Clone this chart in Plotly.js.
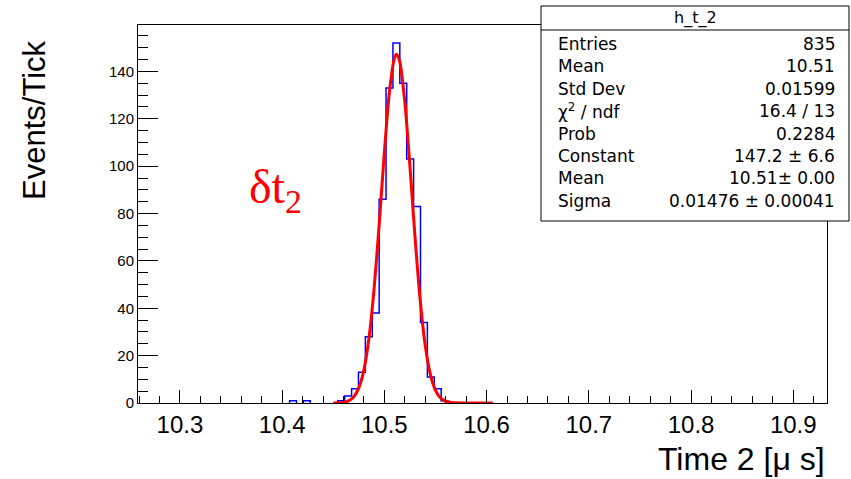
<!DOCTYPE html>
<html>
<head>
<meta charset="utf-8">
<script src="https://cdn.plot.ly/plotly-3.0.1.min.js"></script>
<style>
html,body{margin:0;padding:0;background:#fff;}
#chart{width:851px;height:479px;}
</style>
</head>
<body>
<div id="chart"></div>
<script>
// ---- histogram definition (h_t_2) ----
const histMin = 10.259;
const histMax = 10.933;
const nBins = 100;
// non-empty bins: bin index and content
const binIndex = [22, 24, 29, 30, 31, 32, 33, 34, 35, 36, 37, 38, 39, 40, 41, 42, 43, 44];
const binCount = [1, 1, 1, 3, 6, 13, 28, 38, 86, 133, 152, 135, 103, 83, 34, 11, 6, 1];

// ---- Gaussian fit curve as drawn ----
const fitX = [10.450, 10.455, 10.460, 10.465, 10.470, 10.475, 10.480, 10.485, 10.490, 10.495,
              10.500, 10.505, 10.510, 10.512, 10.515, 10.520, 10.525, 10.530, 10.535, 10.540,
              10.545, 10.550, 10.555, 10.560, 10.565, 10.570, 10.575, 10.580, 10.590, 10.600, 10.606];
const fitY = [0.02, 0.09, 0.30, 0.93, 2.57, 6.36, 14.0, 27.6, 48.5, 75.8,
              105.8, 131.5, 145.9, 147.2, 144.2, 127.1, 99.9, 70.0, 43.7, 24.3,
              12.1, 5.35, 2.11, 0.74, 0.23, 0.07, 0.02, 0.0, 0.0, 0.0, 0.0];

// ---- axis ticks ----
const xTickVals = [10.3, 10.4, 10.5, 10.6, 10.7, 10.8, 10.9];
const xTickText = ["10.3", "10.4", "10.5", "10.6", "10.7", "10.8", "10.9"];
const yTickVals = [0, 20, 40, 60, 80, 100, 120, 140];

// ---- stats box ----
const statTitle = "h_t_2";
const statLabels = ["Entries", "Mean", "Std Dev", "χ<sup>2</sup> / ndf", "Prob", "Constant", "Mean", "Sigma"];
const statValues = ["835", "10.51", "0.01599", "16.4 / 13", "0.2284", "147.2 ± 6.6", "10.51± 0.00", "0.01476 ± 0.00041"];

// ---- texts ----
const xTitle = "Time 2 [μ s]";
const yTitle = "Events/Tick";
const label = "δt<sub>2</sub>";

// build bin contents and the histogram outline (runs of non-empty bins)
const counts = new Array(nBins).fill(0);
binIndex.forEach((b, i) => { counts[b] = binCount[i]; });
const bw = (histMax - histMin) / nBins;
const edge = i => histMin + i * bw;
const stepX = [], stepY = [];
let inRun = false;
for (let i = 0; i < nBins; i++) {
  if (counts[i] > 0) {
    if (!inRun) { stepX.push(edge(i)); stepY.push(0); inRun = true; }
    stepX.push(edge(i), edge(i + 1));
    stepY.push(counts[i], counts[i]);
  } else if (inRun) {
    stepX.push(edge(i), null);
    stepY.push(0, null);
    inRun = false;
  }
}
if (inRun) { stepX.push(edge(nBins)); stepY.push(0); }
const yMax = Math.max(...counts) * 1.05;

const histTrace = {
  x: stepX, y: stepY, type: 'scatter', mode: 'lines', connectgaps: false,
  line: {color: '#0000ff', width: 1.5},
  hoverinfo: 'skip', showlegend: false
};
const fitTrace = {
  x: fitX, y: fitY, type: 'scatter', mode: 'lines',
  line: {shape: 'spline', smoothing: 0.8, color: '#ff0000', width: 3},
  hoverinfo: 'skip', showlegend: false
};

// geometry helpers (pixel -> paper) for the stat box
const L = 138, R = 24, T = 25, B = 76, W = 851, H = 479;
const pw = W - L - R, ph = H - T - B;
const px = v => (v - L) / pw;
const py = v => (H - B - v) / ph;

const font = "Liberation Sans, Arial, Helvetica, sans-serif";
const sfont = "DejaVu Sans, Liberation Sans, sans-serif";
const shapes = [
  {type: 'rect', xref: 'paper', yref: 'paper', x0: px(541), x1: px(849), y0: py(221), y1: py(6),
   line: {color: '#000', width: 1}, fillcolor: '#fff', layer: 'above'},
  {type: 'line', xref: 'paper', yref: 'paper', x0: px(541), x1: px(849), y0: py(30), y1: py(30),
   line: {color: '#000', width: 1}, layer: 'above'}
];
const annotations = [
  {xref: 'paper', yref: 'paper', x: px(695), y: py(18), text: statTitle, showarrow: false,
   xanchor: 'center', yanchor: 'middle', font: {family: sfont, size: 16, color: '#000'}}
];
statLabels.forEach((s, i) => {
  const yy = py(44 + i * 22.4);
  annotations.push({xref: 'paper', yref: 'paper', x: px(556), y: yy, text: s, showarrow: false,
    xanchor: 'left', yanchor: 'middle', font: {family: sfont, size: 17, color: '#000'}});
  annotations.push({xref: 'paper', yref: 'paper', x: px(837), y: yy, text: statValues[i], showarrow: false,
    xanchor: 'right', yanchor: 'middle', font: {family: sfont, size: 17, color: '#000'}});
});
annotations.push({xref: 'paper', yref: 'paper', x: px(827), y: py(459), text: xTitle, showarrow: false,
  xanchor: 'right', yanchor: 'middle', font: {family: font, size: 32, color: '#000'}});
annotations.push({xref: 'paper', yref: 'paper', x: px(35), y: py(120), text: yTitle, showarrow: false,
  textangle: -90, xanchor: 'center', yanchor: 'middle', font: {family: font, size: 31, color: '#000'}});
annotations.push({xref: 'x', yref: 'y', x: 10.366, y: 90, text: label, showarrow: false,
  xanchor: 'left', yanchor: 'middle',
  font: {family: "Liberation Serif, Times New Roman, serif", size: 48, color: '#ff0000'}});

const layout = {
  width: W, height: H,
  margin: {l: L, r: R, t: T, b: B, pad: 0},
  paper_bgcolor: '#fff', plot_bgcolor: '#fff',
  showlegend: false,
  xaxis: {
    range: [histMin, histMax], tickmode: 'array', tickvals: xTickVals, ticktext: xTickText,
    ticks: 'inside', ticklen: 13, tickwidth: 1, tickcolor: '#000',
    minor: {dtick: 0.02, tick0: 10.3, ticks: 'inside', ticklen: 7, tickwidth: 1, tickcolor: '#000', showgrid: false},
    showline: true, linecolor: '#000', linewidth: 1, mirror: true,
    showgrid: false, zeroline: false,
    tickfont: {family: font, size: 24, color: '#000'}
  },
  yaxis: {
    range: [0, yMax], tickmode: 'array', tickvals: yTickVals,
    ticks: 'inside', ticklen: 20, tickwidth: 1, tickcolor: '#000',
    minor: {dtick: 5, tick0: 0, ticks: 'inside', ticklen: 10, tickwidth: 1, tickcolor: '#000', showgrid: false},
    showline: true, linecolor: '#000', linewidth: 1, mirror: true,
    showgrid: false, zeroline: false,
    tickfont: {family: font, size: 15, color: '#000'}
  },
  shapes: shapes,
  annotations: annotations
};

Plotly.newPlot('chart', [histTrace, fitTrace], layout, {staticPlot: true, displayModeBar: false});
</script>
</body>
</html>
